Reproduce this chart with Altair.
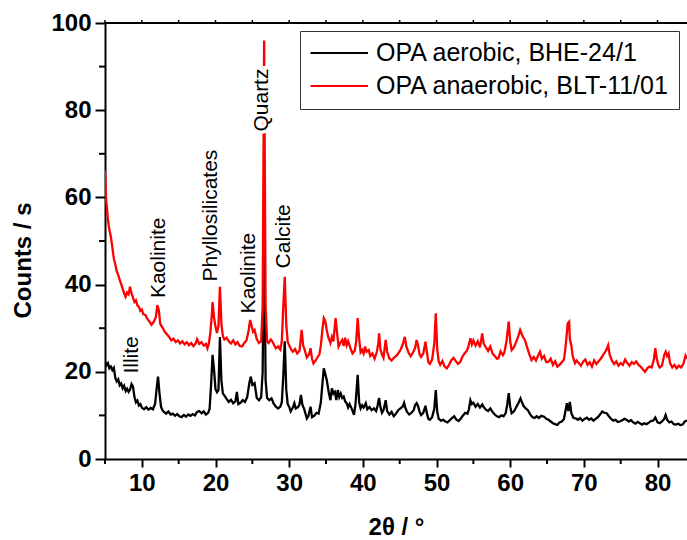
import altair as alt
import pandas as pd

black_label = "OPA aerobic, BHE-24/1"
red_label = "OPA anaerobic, BLT-11/01"

# (2theta, counts/s)
black_scan = [
    (5.0, 22.3), (5.2, 21.5), (5.4, 22.0), (5.6, 20.8), (5.8, 21.2), (6.0, 20.4), (6.2, 20.9),
    (6.4, 18.6), (6.6, 17.8), (6.8, 18.3), (7.0, 16.9), (7.2, 17.3), (7.4, 16.2), (7.6, 16.8),
    (7.8, 15.6), (8.0, 16.1), (8.2, 15.4), (8.4, 15.9), (8.6, 17.2), (8.8, 16.6), (9.0, 14.2),
    (9.2, 13.0), (9.4, 13.4), (9.6, 12.3), (9.8, 12.6), (10.0, 11.8), (10.3, 11.4), (10.6, 11.9),
    (10.9, 11.3), (11.2, 11.7), (11.5, 11.4), (11.8, 12.6), (12.0, 16.0), (12.2, 18.9), (12.4, 15.0),
    (12.6, 12.0), (12.8, 11.2), (13.0, 10.8), (13.3, 10.4), (13.6, 10.9), (13.9, 10.2), (14.2, 10.4),
    (14.5, 9.9), (14.8, 10.3), (15.1, 9.8), (15.4, 9.6), (15.7, 10.1), (16.0, 9.7), (16.3, 10.2),
    (16.6, 9.9), (16.9, 10.3), (17.2, 10.0), (17.5, 10.8), (17.8, 11.0), (18.1, 10.5), (18.4, 10.9),
    (18.7, 10.2), (19.0, 10.6), (19.2, 11.5), (19.4, 17.0), (19.6, 23.9), (19.8, 20.5), (20.0, 16.0),
    (20.2, 15.3), (20.4, 15.8), (20.6, 28.0), (20.8, 18.0), (21.0, 15.0), (21.2, 14.6), (21.5, 13.8),
    (21.8, 13.1), (22.1, 13.6), (22.4, 12.8), (22.7, 13.2), (22.9, 15.4), (23.1, 12.6), (23.4, 12.9),
    (23.7, 13.5), (24.0, 13.1), (24.3, 14.2), (24.6, 17.5), (24.8, 18.9), (25.0, 17.0), (25.3, 17.4),
    (25.6, 14.0), (25.9, 13.5), (26.2, 14.2), (26.4, 20.0), (26.6, 55.0), (26.8, 18.0), (27.0, 14.0),
    (27.3, 13.5), (27.6, 13.9), (27.9, 12.7), (28.2, 12.0), (28.5, 11.6), (28.8, 12.0), (29.0, 13.0),
    (29.2, 19.0), (29.4, 27.0), (29.6, 16.0), (29.8, 12.6), (30.0, 12.0), (30.2, 10.9), (30.5, 11.8),
    (30.7, 12.8), (30.9, 11.6), (31.2, 11.9), (31.4, 12.5), (31.6, 14.7), (31.8, 12.4), (32.0, 11.6),
    (32.2, 10.5), (32.4, 9.3), (32.6, 9.8), (32.9, 12.0), (33.1, 9.6), (33.4, 9.9), (33.7, 10.6),
    (34.0, 10.4), (34.3, 13.0), (34.5, 17.0), (34.7, 20.8), (34.9, 19.5), (35.1, 18.1), (35.4, 15.0),
    (35.6, 13.5), (35.8, 16.2), (36.0, 15.0), (36.2, 15.4), (36.4, 13.5), (36.6, 15.8), (36.8, 14.2),
    (37.0, 15.0), (37.2, 14.0), (37.4, 14.3), (37.6, 13.2), (37.8, 12.8), (38.0, 11.8), (38.2, 12.6),
    (38.5, 11.5), (38.8, 10.1), (39.0, 12.5), (39.2, 17.0), (39.3, 19.3), (39.5, 13.0), (39.7, 11.6),
    (39.9, 12.3), (40.1, 11.8), (40.4, 12.8), (40.6, 11.4), (40.9, 11.9), (41.2, 11.2), (41.5, 11.6),
    (41.8, 11.0), (42.0, 12.2), (42.2, 14.0), (42.4, 11.8), (42.6, 10.6), (42.8, 11.2), (43.1, 13.5),
    (43.3, 11.0), (43.6, 10.2), (43.9, 10.8), (44.2, 9.8), (44.5, 10.4), (44.8, 11.2), (45.1, 11.6),
    (45.4, 12.0), (45.6, 12.9), (45.8, 11.6), (46.0, 10.8), (46.3, 10.2), (46.6, 10.6), (46.9, 11.2),
    (47.1, 12.4), (47.3, 12.8), (47.5, 12.1), (47.7, 10.8), (47.9, 10.1), (48.2, 10.6), (48.5, 12.2),
    (48.7, 10.4), (48.9, 9.2), (49.1, 9.0), (49.4, 9.6), (49.7, 11.5), (49.9, 15.8), (50.1, 10.8),
    (50.3, 9.2), (50.6, 8.8), (50.9, 9.0), (51.2, 8.6), (51.5, 8.4), (51.8, 8.9), (52.1, 9.4),
    (52.4, 9.8), (52.7, 9.0), (53.0, 8.7), (53.3, 9.3), (53.6, 10.0), (53.9, 10.6), (54.2, 10.4),
    (54.4, 11.4), (54.6, 13.5), (54.8, 12.6), (55.0, 12.9), (55.3, 12.0), (55.6, 12.6), (55.9, 11.8),
    (56.2, 12.5), (56.4, 11.9), (56.7, 11.3), (57.0, 11.0), (57.3, 11.6), (57.6, 10.8), (57.9, 10.2),
    (58.2, 9.8), (58.5, 9.6), (58.8, 10.0), (59.1, 9.8), (59.4, 10.6), (59.6, 12.5), (59.8, 15.1),
    (60.0, 12.0), (60.2, 10.5), (60.5, 10.9), (60.8, 11.8), (61.1, 12.8), (61.4, 13.9), (61.6, 13.0),
    (61.8, 12.2), (62.1, 11.6), (62.4, 11.2), (62.7, 10.3), (63.0, 9.6), (63.3, 9.4), (63.6, 9.8),
    (63.9, 9.4), (64.2, 9.9), (64.6, 9.7), (64.9, 9.2), (65.2, 9.0), (65.5, 8.6), (65.8, 8.2),
    (66.1, 8.0), (66.4, 7.8), (66.7, 8.4), (67.0, 8.6), (67.3, 9.2), (67.5, 11.0), (67.7, 12.8),
    (67.9, 11.0), (68.1, 13.1), (68.3, 10.5), (68.6, 9.4), (68.9, 9.3), (69.2, 9.0), (69.5, 9.4),
    (69.8, 8.8), (70.1, 9.2), (70.4, 9.5), (70.7, 9.0), (71.0, 9.3), (71.3, 8.8), (71.6, 9.2),
    (71.9, 9.6), (72.2, 10.2), (72.5, 10.9), (72.8, 10.6), (73.1, 10.5), (73.4, 9.8), (73.7, 9.2),
    (74.0, 8.8), (74.3, 9.0), (74.6, 8.5), (74.9, 8.6), (75.2, 8.9), (75.5, 9.2), (75.8, 9.0),
    (76.1, 8.6), (76.4, 8.9), (76.7, 8.4), (77.0, 8.1), (77.3, 8.5), (77.6, 8.2), (77.9, 7.9),
    (78.2, 8.2), (78.5, 8.0), (78.8, 8.3), (79.1, 8.7), (79.4, 8.8), (79.7, 9.5), (80.0, 8.4),
    (80.3, 8.2), (80.6, 8.6), (80.9, 9.2), (81.1, 10.1), (81.3, 9.0), (81.6, 8.4), (81.9, 8.6),
    (82.2, 8.0), (82.5, 7.9), (82.8, 8.1), (83.1, 7.8), (83.4, 7.9), (83.7, 8.6), (84.0, 8.8),
]

red_scan = [
    (5.0, 66.3), (5.1, 62.0), (5.15, 59.4), (5.3, 57.0), (5.4, 54.8), (5.6, 52.5), (5.8, 51.0),
    (6.0, 48.5), (6.2, 46.0), (6.4, 44.6), (6.6, 43.0), (6.8, 42.2), (7.0, 41.0), (7.2, 40.1),
    (7.4, 39.0), (7.6, 38.0), (7.8, 37.2), (8.0, 38.2), (8.2, 37.8), (8.4, 39.5), (8.6, 38.0),
    (8.8, 37.0), (9.0, 36.0), (9.2, 36.4), (9.4, 35.2), (9.6, 34.9), (9.8, 34.0), (10.0, 34.3),
    (10.2, 33.2), (10.5, 33.0), (10.8, 32.0), (11.0, 31.6), (11.3, 30.8), (11.6, 31.4), (11.9, 32.5),
    (12.1, 35.3), (12.3, 34.2), (12.5, 31.0), (12.7, 30.4), (12.9, 29.9), (13.1, 29.2), (13.4, 28.6),
    (13.7, 28.0), (14.0, 27.2), (14.3, 27.6), (14.6, 26.8), (14.9, 27.2), (15.2, 26.5), (15.5, 27.0),
    (15.8, 26.3), (16.1, 26.8), (16.4, 26.1), (16.7, 26.6), (17.0, 25.9), (17.3, 26.5), (17.5, 27.5),
    (17.8, 26.4), (18.1, 26.8), (18.4, 26.0), (18.7, 26.4), (18.9, 25.4), (19.1, 26.5), (19.3, 29.0),
    (19.5, 33.0), (19.6, 36.0), (19.8, 32.5), (20.0, 30.3), (20.2, 28.9), (20.4, 30.5), (20.6, 39.5),
    (20.8, 31.0), (21.0, 28.2), (21.2, 27.4), (21.5, 27.8), (21.8, 27.0), (22.1, 26.5), (22.4, 27.2),
    (22.7, 26.3), (23.0, 26.8), (23.3, 25.9), (23.6, 25.8), (23.9, 26.6), (24.2, 27.2), (24.5, 29.5),
    (24.7, 31.9), (24.9, 30.5), (25.1, 29.2), (25.3, 29.6), (25.6, 27.5), (25.9, 26.6), (26.2, 27.0),
    (26.4, 35.0), (26.6, 96.0), (26.8, 35.0), (27.0, 27.0), (27.2, 26.6), (27.5, 27.4), (27.7, 27.0),
    (28.0, 26.0), (28.2, 25.4), (28.5, 25.8), (28.8, 25.1), (29.0, 27.0), (29.2, 35.0), (29.4, 41.8),
    (29.6, 31.0), (29.8, 26.8), (30.0, 26.1), (30.3, 25.0), (30.5, 24.6), (30.8, 25.2), (31.1, 24.2),
    (31.4, 24.8), (31.6, 28.0), (31.7, 29.6), (31.9, 26.0), (32.1, 25.1), (32.3, 23.8), (32.4, 23.3),
    (32.7, 24.0), (32.9, 25.4), (33.1, 23.0), (33.3, 21.9), (33.6, 22.6), (33.9, 23.5), (34.1, 24.0),
    (34.3, 26.0), (34.5, 29.5), (34.7, 32.3), (34.9, 31.6), (35.1, 29.6), (35.3, 28.0), (35.6, 26.6),
    (35.8, 28.0), (36.0, 27.0), (36.3, 32.3), (36.5, 29.0), (36.7, 25.8), (36.9, 26.5), (37.2, 27.3),
    (37.4, 25.9), (37.6, 27.8), (37.8, 26.1), (38.0, 27.0), (38.3, 25.5), (38.6, 24.2), (38.9, 24.8),
    (39.1, 27.0), (39.3, 32.3), (39.5, 27.5), (39.7, 24.5), (39.9, 25.0), (40.1, 24.2), (40.3, 25.8),
    (40.5, 24.6), (40.8, 25.0), (41.0, 23.6), (41.3, 24.2), (41.6, 23.0), (41.9, 24.6), (42.1, 26.5),
    (42.2, 28.8), (42.4, 25.0), (42.6, 24.0), (42.8, 23.2), (43.1, 27.3), (43.3, 24.6), (43.6, 23.1),
    (43.9, 22.6), (44.2, 23.2), (44.5, 23.6), (44.8, 24.2), (45.1, 25.0), (45.4, 26.2), (45.7, 28.0),
    (45.9, 25.8), (46.2, 24.4), (46.5, 23.6), (46.8, 24.4), (47.1, 25.5), (47.3, 27.3), (47.5, 26.0),
    (47.7, 24.0), (47.9, 23.4), (48.2, 24.2), (48.5, 26.9), (48.7, 24.4), (48.9, 22.2), (49.1, 21.8),
    (49.4, 22.8), (49.7, 26.5), (49.9, 33.4), (50.1, 25.0), (50.3, 22.4), (50.5, 21.6), (50.8, 22.5),
    (51.1, 21.2), (51.4, 20.8), (51.7, 21.6), (52.0, 22.6), (52.3, 23.2), (52.6, 22.5), (52.9, 21.8),
    (53.2, 22.2), (53.5, 23.4), (53.8, 24.2), (54.1, 24.8), (54.3, 25.6), (54.6, 27.7), (54.8, 26.3),
    (55.0, 27.2), (55.3, 26.0), (55.6, 27.0), (55.9, 25.6), (56.2, 28.8), (56.4, 26.5), (56.7, 25.6),
    (57.0, 24.8), (57.3, 25.8), (57.6, 24.2), (57.9, 23.6), (58.2, 23.0), (58.4, 23.1), (58.7, 24.7),
    (59.0, 23.8), (59.2, 24.4), (59.5, 27.0), (59.7, 30.0), (59.8, 31.5), (60.0, 27.0), (60.2, 25.0),
    (60.5, 25.6), (60.8, 26.8), (61.1, 28.2), (61.35, 29.6), (61.6, 28.5), (61.8, 27.8), (62.0, 27.3),
    (62.3, 25.6), (62.6, 24.0), (62.9, 22.7), (63.2, 23.4), (63.5, 22.6), (63.8, 23.8), (64.05, 24.6),
    (64.3, 23.0), (64.6, 23.6), (64.9, 22.2), (65.2, 22.3), (65.5, 23.0), (65.8, 21.6), (66.1, 22.4),
    (66.4, 21.2), (66.7, 21.6), (67.0, 22.2), (67.3, 22.8), (67.5, 25.5), (67.7, 29.0), (67.8, 31.1),
    (68.0, 31.5), (68.1, 27.5), (68.3, 26.0), (68.5, 23.5), (68.8, 22.0), (69.0, 22.6), (69.3, 22.0),
    (69.6, 21.4), (69.9, 22.3), (70.2, 22.8), (70.5, 21.6), (70.8, 22.2), (71.1, 21.2), (71.4, 22.6),
    (71.7, 21.8), (72.0, 22.4), (72.3, 23.0), (72.6, 23.8), (72.9, 24.6), (73.1, 25.2), (73.3, 26.1),
    (73.5, 24.0), (73.8, 22.6), (74.1, 21.8), (74.4, 22.4), (74.7, 21.4), (75.0, 22.0), (75.3, 21.6),
    (75.6, 22.8), (75.9, 22.0), (76.2, 21.4), (76.5, 22.2), (76.8, 21.8), (77.1, 22.4), (77.4, 21.6),
    (77.7, 21.2), (78.0, 20.6), (78.3, 20.0), (78.6, 20.8), (78.9, 21.2), (79.2, 21.0), (79.5, 22.8),
    (79.7, 25.4), (79.9, 23.0), (80.1, 21.6), (80.3, 21.0), (80.6, 21.4), (80.9, 23.8), (81.1, 24.6),
    (81.3, 23.6), (81.5, 24.2), (81.7, 22.0), (82.0, 21.0), (82.3, 21.6), (82.6, 20.8), (82.9, 21.4),
    (83.2, 21.0), (83.5, 21.8), (83.8, 23.7), (84.0, 23.0),
]

peak_names = ["Illite", "Kaolinite", "Phyllosilicates", "Kaolinite", "Quartz", "Calcite"]
peak_x = [8.65, 12.35, 19.45, 24.5, 26.3, 29.3]
peak_label_y = [19.6, 36.9, 40.7, 33.4, 75.1, 43.7]

x_major = [10, 20, 30, 40, 50, 60, 70, 80]
x_minor = [5, 15, 25, 35, 45, 55, 65, 75]
y_major = [0, 20, 40, 60, 80, 100]
y_minor = [10, 30, 50, 70, 90]

FONT = "Liberation Sans"
W, H = 582, 436

rows = [{"two_theta": x, "counts": y, "series": black_label} for x, y in black_scan]
rows += [{"two_theta": x, "counts": y, "series": red_label} for x, y in red_scan]
df = pd.DataFrame(rows)

ann = pd.DataFrame({"name": peak_names, "x": peak_x, "y": peak_label_y})
quartz = ann[ann["name"] == "Quartz"]

x_scale = alt.Scale(domain=[5, 84], nice=False, zero=False)
y_scale = alt.Scale(domain=[0, 100], nice=False)

x_axis = alt.Axis(
    values=x_major, tickSize=8, tickWidth=2, tickColor="black",
    domainWidth=2, domainColor="black",
    labelFont=FONT, labelFontSize=24, labelFontWeight="bold", labelColor="black",
    labelPadding=4, grid=False,
    title="2θ / °", titleFont=FONT, titleFontSize=24, titleFontWeight="bold",
    titleColor="black", titleY=68, titleBaseline="middle",
)
y_axis = alt.Axis(
    values=y_major, tickSize=10, tickWidth=2, tickColor="black",
    domainWidth=2, domainColor="black",
    labelFont=FONT, labelFontSize=24, labelFontWeight="bold", labelColor="black",
    labelPadding=4, grid=False,
    title="Counts / s", titleFont=FONT, titleFontSize=24, titleFontWeight="bold",
    titleColor="black", titleX=-82, titleY=237, titleBaseline="middle",
)


def X(field):
    return alt.X(field, scale=x_scale, axis=x_axis)


def Y(field):
    return alt.Y(field, scale=y_scale, axis=y_axis)


lines = alt.Chart(df).mark_line(strokeWidth=2.3, clip=True).encode(
    x=X("two_theta:Q"),
    y=Y("counts:Q"),
    color=alt.Color(
        "series:N",
        scale=alt.Scale(domain=[black_label, red_label], range=["#000000", "#ff0000"]),
        legend=alt.Legend(
            title=None, orient="none", legendX=195, legendY=8,
            symbolType="M-1,0H4", symbolSize=529, symbolStrokeWidth=2,
            labelFont=FONT, labelFontSize=25, labelColor="black", labelOffset=41.5,
            labelLimit=400, rowPadding=7, padding=9.5,
            strokeColor="#333333", fillColor="white",
        ),
    ),
)

# top frame line and small outward ticks
top_line = alt.Chart(df).mark_rule(color="black", strokeWidth=2).encode(
    x=alt.value(0), x2=alt.value(W), y=alt.value(0)
)
top_ticks = alt.Chart(pd.DataFrame({"two_theta": x_major + x_minor})).mark_rule(
    color="black", strokeWidth=1.5
).encode(x=X("two_theta:Q"), y=alt.value(-3), y2=alt.value(0))

x_minor_ticks = alt.Chart(pd.DataFrame({"two_theta": x_minor})).mark_rule(
    color="black", strokeWidth=2
).encode(x=X("two_theta:Q"), y=alt.value(H), y2=alt.value(H + 5))

y_minor_ticks = alt.Chart(pd.DataFrame({"counts": y_minor})).mark_rule(
    color="black", strokeWidth=2
).encode(y=Y("counts:Q"), x=alt.value(-6), x2=alt.value(0))

halo = alt.Chart(quartz).mark_text(
    angle=270, align="left", baseline="middle", font=FONT, fontSize=21,
    color="white", stroke="white", strokeWidth=7,
).encode(x=X("x:Q"), y=Y("y:Q"), text="name:N")

labels = alt.Chart(ann).mark_text(
    angle=270, align="left", baseline="middle", font=FONT, fontSize=21, color="black",
).encode(x=X("x:Q"), y=Y("y:Q"), text="name:N")

chart = alt.layer(
    lines, top_line, top_ticks, x_minor_ticks, y_minor_ticks, halo, labels
).properties(
    width=W, height=H, background="white",
    autosize=alt.AutoSizeParams(type="none"),
    padding={"left": 105, "top": 23, "right": 0, "bottom": 81},
).configure_view(stroke=None)

chart.save("out.html", embed_options={"renderer": "svg", "actions": False})
